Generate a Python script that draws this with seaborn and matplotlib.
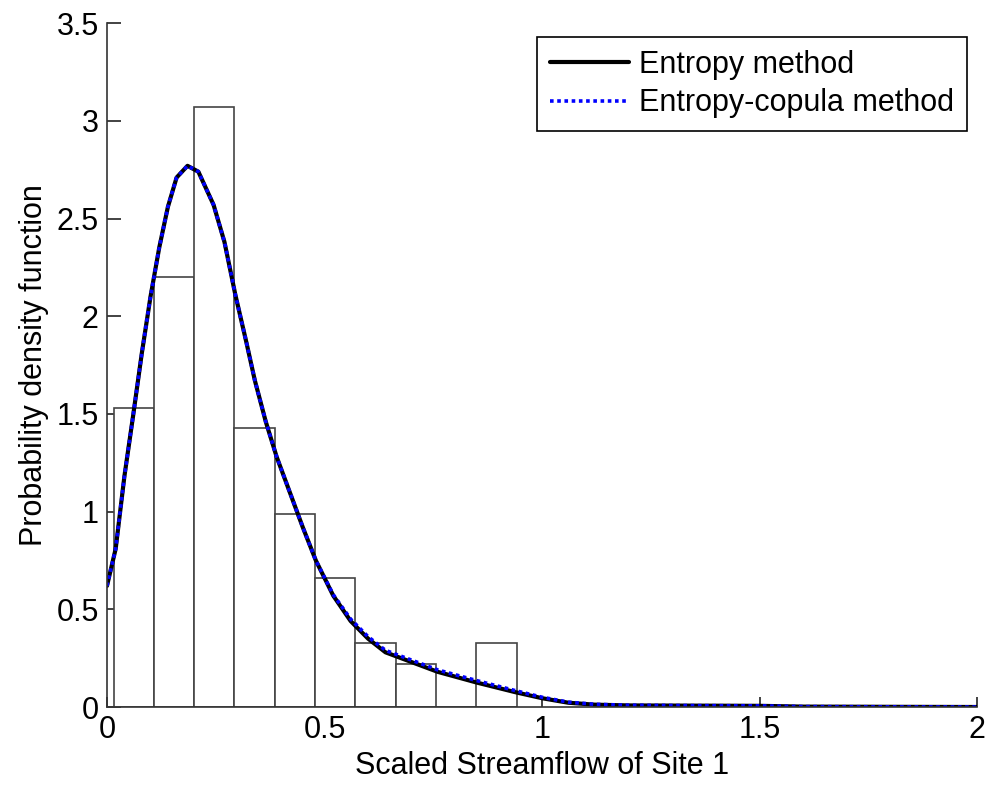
import numpy as np
import pandas as pd
import matplotlib
matplotlib.use("Agg")
import matplotlib.pyplot as plt
import seaborn as sns

# Histogram of scaled streamflow (density per bin)
bin_edges = [0.015, 0.108, 0.200, 0.293, 0.386, 0.478, 0.571, 0.664, 0.756, 0.849, 0.942]
bar_density = [1.53, 2.20, 3.07, 1.43, 0.99, 0.66, 0.33, 0.22, 0.0, 0.33]

# Fitted probability density curves
x_grid = [0.0, 0.02, 0.04, 0.06, 0.08, 0.10, 0.12, 0.14, 0.16, 0.185, 0.21, 0.245,
          0.27, 0.295, 0.32, 0.34, 0.365, 0.39, 0.42, 0.45, 0.48, 0.52, 0.56, 0.60,
          0.64, 0.70, 0.76, 0.85, 0.94, 1.00, 1.06, 1.12, 1.20, 1.35, 1.50, 1.55,
          1.60, 1.80, 2.00]
pdf_entropy = [0.62, 0.81, 1.18, 1.49, 1.81, 2.10, 2.35, 2.56, 2.71, 2.77, 2.74, 2.57,
               2.38, 2.11, 1.87, 1.67, 1.46, 1.28, 1.10, 0.92, 0.75, 0.57, 0.44, 0.35,
               0.28, 0.23, 0.18, 0.125, 0.075, 0.045, 0.022, 0.012, 0.008, 0.007, 0.006,
               0.004, 0.002, 0.001, 0.0]
pdf_copula = [0.62, 0.81, 1.18, 1.49, 1.81, 2.10, 2.35, 2.56, 2.71, 2.77, 2.74, 2.57,
              2.38, 2.11, 1.87, 1.67, 1.46, 1.28, 1.10, 0.92, 0.75, 0.575, 0.45, 0.36,
              0.29, 0.24, 0.19, 0.135, 0.083, 0.05, 0.025, 0.014, 0.009, 0.007, 0.006,
              0.004, 0.002, 0.001, 0.0]

x_ticks = [0, 0.5, 1, 1.5, 2]
x_tick_labels = ["0", "0.5", "1", "1.5", "2"]
y_ticks = [0, 0.5, 1, 1.5, 2, 2.5, 3, 3.5]
y_tick_labels = ["0", "0.5", "1", "1.5", "2", "2.5", "3", "3.5"]

sns.set_theme(style="white")
plt.rcParams["font.family"] = ["Liberation Sans", "DejaVu Sans"]
plt.rcParams["xtick.direction"] = "in"
plt.rcParams["ytick.direction"] = "in"
plt.rcParams["text.color"] = "black"
plt.rcParams["axes.labelcolor"] = "black"

fig = plt.figure(figsize=(9.86, 7.86), dpi=100)
ax = fig.add_axes([0.1085, 0.1005, 0.8826, 0.8700])

centers = [(a + b) / 2 for a, b in zip(bin_edges[:-1], bin_edges[1:])]
hist_df = pd.DataFrame({"center": centers, "density": bar_density})
sns.histplot(data=hist_df, x="center", weights="density", bins=bin_edges,
             stat="count", color="white", edgecolor="#444444", linewidth=1.2,
             alpha=1, ax=ax)

curve_df = pd.DataFrame({"x": x_grid, "entropy": pdf_entropy, "copula": pdf_copula})
sns.lineplot(data=curve_df, x="x", y="entropy", color="black", linewidth=3.0,
             label="Entropy method", ax=ax, sort=False)
sns.lineplot(data=curve_df, x="x", y="copula", color="#0000ff", linewidth=2.6,
             linestyle=(0, (1, 1)), label="Entropy-copula method", ax=ax, sort=False)

ax.set_xlim(0, 2)
ax.set_ylim(0, 3.5)
ax.set_xticks(x_ticks)
ax.set_xticklabels(x_tick_labels)
ax.set_yticks(y_ticks)
ax.set_yticklabels(y_tick_labels)
ax.tick_params(axis="both", labelsize=22, labelcolor="black", color="#222222",
               width=1.2, bottom=True, left=True, top=False, right=False)
ax.tick_params(axis="x", length=7, pad=6)
ax.tick_params(axis="y", length=10, pad=6)

for side in ["top", "right"]:
    ax.spines[side].set_visible(False)
for side in ["left", "bottom"]:
    ax.spines[side].set_color("#333333")
    ax.spines[side].set_linewidth(1.2)

ax.set_xlabel("Scaled Streamflow of Site 1", fontsize=22, labelpad=4, color="black")
ax.set_ylabel("Probability density function", fontsize=22, labelpad=5, color="black")

leg = ax.legend(loc="upper right", bbox_to_anchor=(0.9885, 0.980), borderaxespad=0,
                fontsize=22, frameon=True, fancybox=False, framealpha=1,
                edgecolor="black", handlelength=2.6, handletextpad=0.33,
                labelspacing=0.28, borderpad=0.42)
leg.get_frame().set_linewidth(1.2)
for t in leg.get_texts():
    t.set_color("black")

fig.savefig("out.png", dpi=100)
